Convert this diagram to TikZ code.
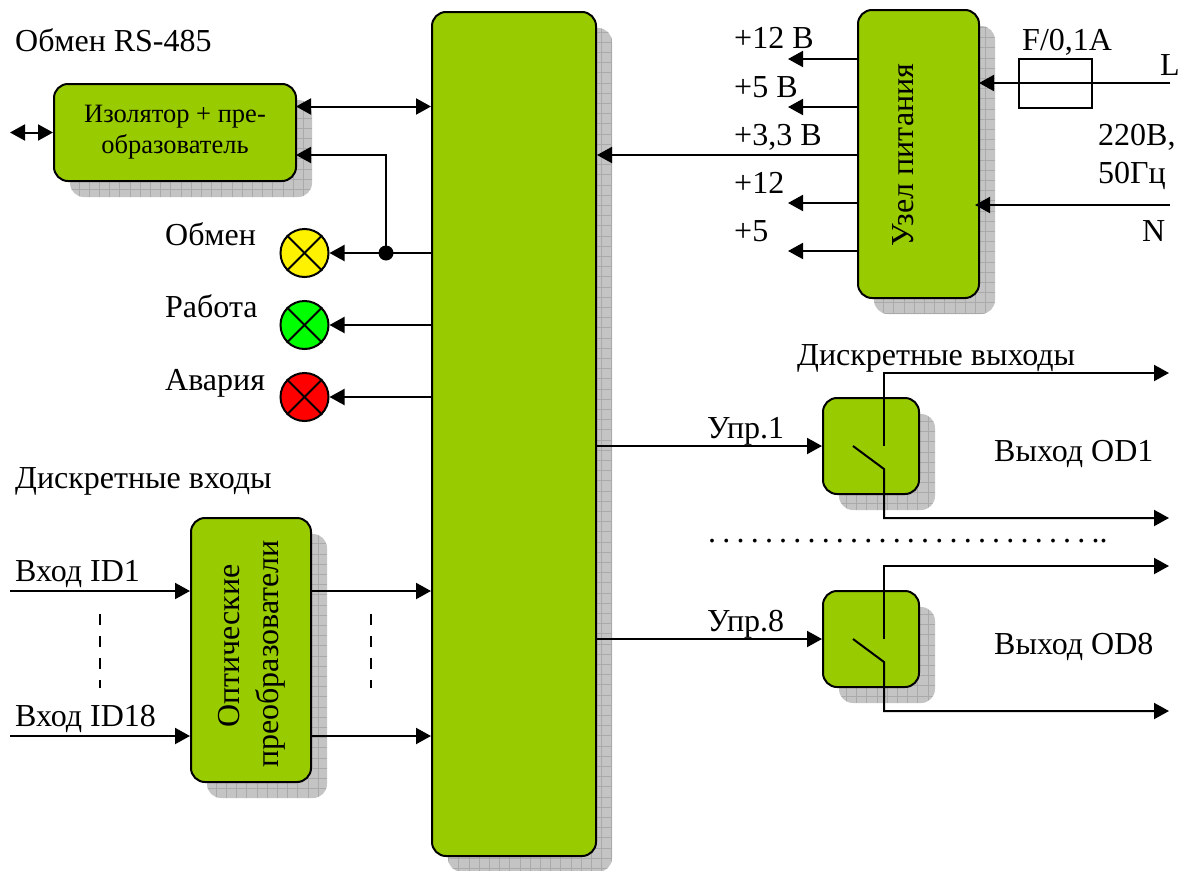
\documentclass[tikz,border=0pt]{standalone}
\usepackage{fontspec}
\setmainfont{Liberation Serif}
\usetikzlibrary{arrows.meta}
\definecolor{boxgreen}{HTML}{99CC00}
\definecolor{shadowgray}{HTML}{C4C4C4}
\definecolor{shadowgrid}{HTML}{AAAAAA}
\tikzset{
  wire/.style={line width=2pt,draw=black},
  tip/.style={wire,-{Triangle[length=15pt,width=16pt]}},
  bitip/.style={wire,{Triangle[length=15pt,width=16pt]}-{Triangle[length=15pt,width=16pt]}},
  greenbox/.style={draw=black,line width=2pt,fill=boxgreen,rounded corners=14pt,inner sep=0pt,align=center,font=\fontsize{32}{37}\selectfont},
  shadowbox/.style={fill=shadowgray,rounded corners=14pt,inner sep=0pt,path picture={
      \draw[shadowgrid,line width=.6pt,step=10.2pt] (path picture bounding box.south west) grid (path picture bounding box.north east);}},
  lamp/.style={circle,draw=black,line width=2pt,minimum size=48pt,inner sep=0pt},
  lab/.style={anchor=base west,inner sep=0pt,font=\fontsize{32}{37}\selectfont},
  dotjoin/.style={circle,fill=black,minimum size=15pt,inner sep=0pt},
  dashline/.style={line width=2pt,dash pattern=on 11pt off 11pt},
}
\begin{document}
\begin{tikzpicture}[x=1pt,y=-1pt]
\useasboundingbox[fill=white] (0,0) rectangle (1183,870);
% shadows and boxes
\node[shadowbox,minimum width=164pt,minimum height=844pt] (mainS) at (530,450) {};
\node[greenbox,minimum width=164pt,minimum height=844pt] (main) at (514,434) {};
\node[shadowbox,minimum width=242pt,minimum height=97pt] (isoS) at (191,148.5) {};
\node[greenbox,minimum width=242pt,minimum height=97pt,font=\fontsize{26.5}{31}\selectfont] (iso) at (175,132.5) {Изолятор + пре-\\образователь};
\node[shadowbox,minimum width=121pt,minimum height=288pt] (pwrS) at (934.5,170) {};
\node[greenbox,minimum width=121pt,minimum height=288pt] (pwr) at (918.5,154) {};
\node[anchor=center,rotate=90,inner sep=0pt,font=\fontsize{32}{37}\selectfont] (pwrT) at (903,155) {Узел питания};
\node[shadowbox,minimum width=120pt,minimum height=264pt] (optS) at (267,666) {};
\node[greenbox,minimum width=120pt,minimum height=264pt] (opt) at (251,650) {};
\node[rotate=90,align=center,inner sep=0pt,font=\fontsize{32}{39}\selectfont] (optT) at (252,654) {\hspace*{16pt}Оптические\\преобразователи};
\node[shadowbox,minimum width=96pt,minimum height=96pt] (swaS) at (887,462) {};
\node[greenbox,minimum width=96pt,minimum height=96pt] (swa) at (871,446) {};
\node[shadowbox,minimum width=96pt,minimum height=96pt] (swbS) at (887,655) {};
\node[greenbox,minimum width=96pt,minimum height=96pt] (swb) at (871,639) {};
% lamps
\node[lamp,fill=yellow] (la) at (304.5,253) {};
\node[lamp,fill=green] (lb) at (304.5,325) {};
\node[lamp,fill=red] (lc) at (304.5,397) {};
\foreach \l in {la,lb,lc}{
  \draw[wire] (\l.north west) -- (\l.south east);
  \draw[wire] (\l.north east) -- (\l.south west);
}
% fuse
\coordinate (Lend) at (1170,83);
\coordinate (Nend) at (1170,205);
\coordinate (Ntip) at (975,205);
\node[draw=black,line width=2pt,fill=white,minimum width=73pt,minimum height=49pt,inner sep=0pt] (fuse) at (1055,83.5) {};
% free ends
\coordinate (isoOut) at (10,132.5);
\coordinate (a12) at (788,59);
\coordinate (a5) at (788,107);
\coordinate (a12b) at (788,203);
\coordinate (a5b) at (788,251);
\coordinate (id1) at (10,591);
\coordinate (id18) at (10,736);
\coordinate (jn) at (386,253);
\coordinate (isoIn) at (296,155);
\coordinate (isoBus) at (296,106.5);
\coordinate (pwrBus) at (858,155);
\coordinate (lIn) at (979,83);
% connectors
\draw[bitip] (isoBus) -- (main.west |- isoBus);
\draw[bitip] (isoOut) -- (iso.west |- isoOut);
\draw[tip] (jn) |- (isoIn);
\draw[tip] (main.west |- la.east) -- (la.east);
\draw[tip] (main.west |- lb.east) -- (lb.east);
\draw[tip] (main.west |- lc.east) -- (lc.east);
\node[dotjoin] (jd) at (jn) {};
\draw[tip] (pwr.west |- a12) -- (a12);
\draw[tip] (pwr.west |- a5) -- (a5);
\draw[tip] (pwr.west |- a12b) -- (a12b);
\draw[tip] (pwr.west |- a5b) -- (a5b);
\draw[tip] (pwrBus) -- (main.east |- pwrBus);
\draw[tip] (Lend) -- (lIn);
\draw[tip] (Nend) -- (Ntip);
\draw[tip] (id1) -- (opt.west |- id1);
\draw[tip] (id18) -- (opt.west |- id18);
\draw[tip] (opt.east |- id1) -- (main.west |- id1);
\draw[tip] (opt.east |- id18) -- (main.west |- id18);
\draw[tip] (main.east |- swa.west) -- (swa.west);
\draw[tip] (main.east |- swb.west) -- (swb.west);
% switches
\coordinate (oa1) at (1169,373);
\coordinate (oa2) at (1169,518);
\coordinate (ob1) at (1169,566);
\coordinate (ob2) at (1169,711);
\draw[tip] (884,446) -- (884,373) -- (oa1);
\draw[tip] (853,446) -- (884,469) -- (884,518) -- (oa2);
\draw[tip] (884,639) -- (884,566) -- (ob1);
\draw[tip] (853,639) -- (884,662) -- (884,711) -- (ob2);
% dashed
\draw[dashline] (100,614) -- (100,688);
\draw[dashline] (371,614) -- (371,688);
% labels
\node[lab] (t1) at (15,51.5) {Обмен RS-485};
\node[lab] (t2) at (165,245) {Обмен};
\node[lab] (t3) at (165,317) {Работа};
\node[lab] (t4) at (165,390) {Авария};
\node[lab] (t5) at (15,488) {Дискретные входы};
\node[lab] (t6) at (15,581) {Вход ID1};
\node[lab] (t7) at (15,726.5) {Вход ID18};
\node[lab] (t8) at (734,48.5) {+12 В};
\node[lab] (t9) at (734,97) {+5 В};
\node[lab] (t10) at (734,145) {+3,3 В};
\node[lab] (t11) at (734,193.5) {+12};
\node[lab] (t12) at (734,241.5) {+5};
\node[lab] (t13) at (1022,50) {F/0,1A};
\node[lab] (t14) at (1160,75) {L};
\node[lab] (t15) at (1098,145) {220В,};
\node[lab] (t16) at (1098,183) {50Гц};
\node[lab] (t17) at (1142,241) {N};
\node[lab] (t18) at (797,365) {Дискретные выходы};
\node[lab] (t19) at (707,438.5) {Упр.1};
\node[lab] (t20) at (707,631.5) {Упр.8};
\node[lab] (t21) at (994,461) {Выход OD1};
\node[lab] (t22) at (994,654) {Выход OD8};
\node[lab] (t23) at (708,542) {\frenchspacing\spaceskip=6.2pt . . . . . . . . . . . . . . . . . . . . . . . . . . . ..};
\end{tikzpicture}
\end{document}
